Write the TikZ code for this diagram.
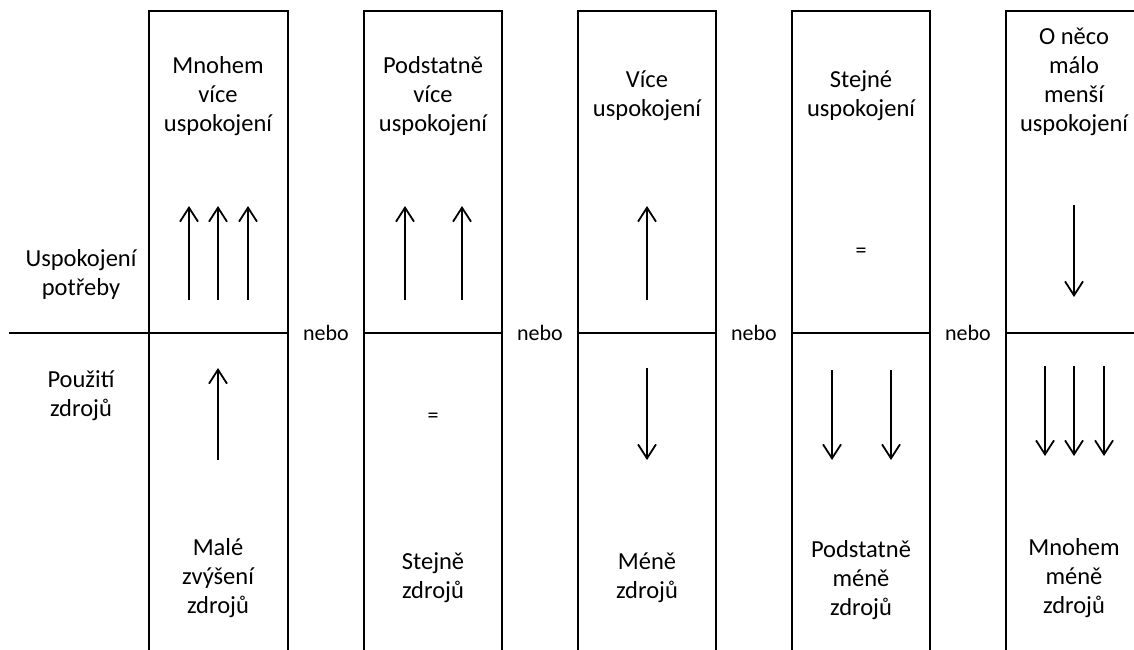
\documentclass[tikz,border=0pt]{standalone}
\usepackage{fontspec}
\setmainfont{Carlito}
\usetikzlibrary{arrows.meta}
\begin{document}
\begin{tikzpicture}[x=1pt,y=-1pt,
  frame/.style={line width=1.3pt,line cap=rect},
  arr/.style={line width=1.8pt,-{Straight Barb[length=14pt,width=18pt]}},
  txt/.style={align=center,inner sep=0pt,font=\fontsize{24.5}{29}\selectfont},
  small/.style={inner sep=0pt,font=\fontsize{22}{26}\selectfont}]
\useasboundingbox (0,0) rectangle (1134,649);

% open-bottomed columns and the dividing line
\foreach \xl/\xr in {149/288,364/502,578/716,792/930,1006/1134}{
  \draw[frame] (\xl,649) -- (\xl,11) -- (\xr,11);
  \draw[frame] (\xl,333) -- (\xr,333);
}
\foreach \xr in {288,502,716,930}{
  \draw[frame] (\xr,11) -- (\xr,649);
}
\draw[frame] (10,333) -- (149,333);

% row labels
\node[txt] (need) at (81,274) {Uspokojení\\potřeby};
\node[txt] (use)  at (81,396) {Použití\\zdrojů};

% "nebo" between the columns
\node[small] (or1) at (326,333) {nebo};
\node[small] (or2) at (540,333) {nebo};
\node[small] (or3) at (754,333) {nebo};
\node[small] (or4) at (968,333) {nebo};

% column headings
\node[txt] (t1) at (218,96) {Mnohem\\více\\uspokojení};
\node[txt] (t2) at (433,96) {Podstatně\\více\\uspokojení};
\node[txt] (t3) at (647,96) {Více\\uspokojení};
\node[txt] (t4) at (861,96) {Stejné\\uspokojení};
\node[txt] (t5) at (1074,82) {O něco\\málo\\menší\\uspokojení};

% column footers
\node[txt] (b1) at (218,578) {Malé\\zvýšení\\zdrojů};
\node[txt] (b2) at (433,578) {Stejně\\zdrojů};
\node[txt] (b3) at (647,578) {Méně\\zdrojů};
\node[txt] (b4) at (861,580) {Podstatně\\méně\\zdrojů};
\node[txt] (b5) at (1074,578) {Mnohem\\méně\\zdrojů};

% equal signs
\node[small] (eq1) at (433,418) {=};
\node[small] (eq2) at (861,253) {=};

% arrow end points
\foreach \n/\x in {a/189,b/218,c/248,d/405,e/462,f/647}{
  \coordinate (\n s) at (\x,300);
  \coordinate (\n e) at (\x,206);
}
\coordinate (gs) at (218,460); \coordinate (ge) at (218,368);
\coordinate (hs) at (647,368); \coordinate (he) at (647,460);
\coordinate (is) at (832,370); \coordinate (ie) at (832,460);
\coordinate (js) at (891,370); \coordinate (je) at (891,460);
\coordinate (ks) at (1074,205); \coordinate (ke) at (1074,297);
\foreach \n/\x in {l/1045,m/1074,n/1104}{
  \coordinate (\n s) at (\x,366);
  \coordinate (\n e) at (\x,456);
}

% arrows
\foreach \n in {a,b,c,d,e,f,g,h,i,j,k,l,m,n}{
  \draw[arr] (\n s) -- (\n e);
}
\end{tikzpicture}
\end{document}
